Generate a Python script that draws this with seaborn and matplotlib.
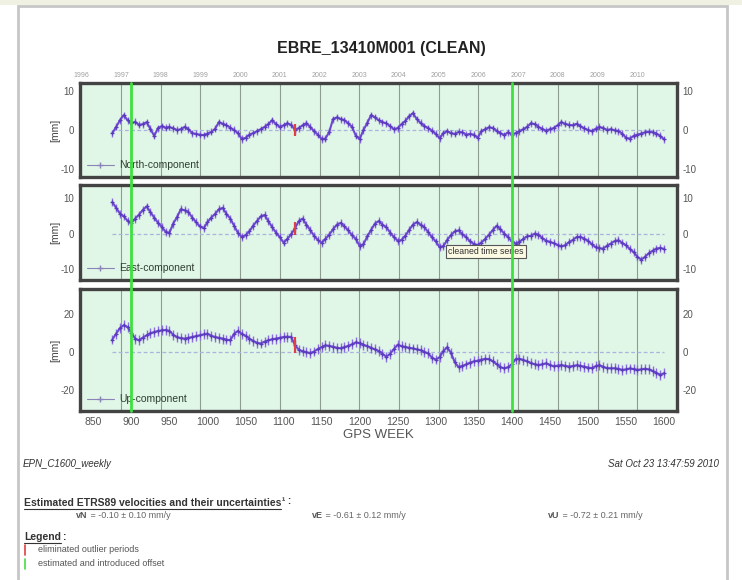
import datetime as dt

import matplotlib
matplotlib.use("Agg")
import matplotlib.pyplot as plt
import numpy as np
import pandas as pd
import seaborn as sns
from matplotlib import transforms
from matplotlib.lines import Line2D
from matplotlib.patches import Rectangle

# ---------------------------------------------------------------- data
station = "EBRE_13410M001 (CLEAN)"
solution = "EPN_C1600_weekly"
stamp = "Sat Oct 23 13:47:59 2010"

weeks = np.arange(875, 1601, 5)

north = [
    -0.8, 0.8, 2.5, 3.8, 2.5, 1.7, 2.1, 1.3, 1.5, 2.0,
    0.3, -1.5, 0.5, 1.0, 0.6, 0.8, 0.4, 0.0, 0.2, 0.8,
    0.2, -0.8, -1.0, -1.2, -1.3, -0.9, -0.5, 0.3, 2.0, 1.6,
    1.2, 0.6, 0.0, -0.8, -2.3, -2.0, -1.2, -0.8, -0.3, 0.2,
    0.8, 1.5, 2.5, 1.5, 0.8, 1.2, 1.7, 1.3, 0.0, 0.5,
    1.2, 1.7, 0.8, -0.3, -1.2, -2.3, -2.2, -0.5, 2.8, 3.2,
    2.8, 2.5, 1.7, 0.8, -1.5, -2.3, 0.0, 1.8, 3.8, 3.2,
    2.5, 2.0, 1.7, 1.0, 0.2, 0.5, 1.5, 2.3, 3.5, 4.3,
    2.8, 1.8, 1.0, 0.5, -0.2, -1.0, -2.1, -0.8, -0.3, -0.8,
    -1.0, -0.5, -0.6, -1.2, -1.0, -1.2, -2.0, -0.3, 0.2, 0.7,
    0.5, -0.2, -0.8, -1.3, -0.6, -1.2, -0.8, -0.3, 0.2, 0.8,
    1.7, 1.5, 0.8, 0.3, -0.2, 0.2, 0.5, 1.2, 2.0, 1.6,
    1.3, 1.2, 1.6, 1.0, 0.4, 0.0, -0.3, 0.3, 0.8, 0.5,
    0.0, 0.2, -0.1, -0.3, -0.9, -2.0, -2.2, -1.5, -1.2, -0.9,
    -0.6, -0.4, -0.6, -0.9, -1.5, -2.4,
]

east = [
    8.8, 7.2, 5.6, 4.8, 3.6, 3.0, 4.2, 5.3, 6.6, 7.6,
    6.0, 4.5, 3.0, 1.9, 0.5, 0.2, 2.8, 4.6, 6.8, 6.5,
    6.0, 4.5, 3.2, 2.0, 1.5, 3.2, 4.5, 5.5, 6.8, 7.2,
    5.5, 4.2, 2.2, 0.2, -0.9, -0.5, 0.6, 2.2, 3.5, 4.8,
    5.2, 3.5, 1.8, 0.3, -1.0, -2.5, -1.5, -0.2, 1.5, 3.5,
    4.2, 2.5, 1.0, -0.6, -1.8, -2.6, -1.5, -0.3, 1.2, 2.5,
    3.0, 2.0, 0.9, -0.5, -1.5, -3.5, -3.0, -0.8, 1.0, 2.8,
    3.5, 2.5, 1.8, 0.3, -1.0, -2.0, -1.8, -0.6, 1.0, 2.5,
    3.2, 2.5, 1.8, 0.4, -1.0, -2.2, -3.8, -3.5, -1.8, -0.4,
    0.6, 0.9, -0.2, -1.0, -2.2, -2.9, -3.2, -2.5, -1.5, -0.3,
    1.0, 2.2, 1.2, 0.0, -1.0, -2.2, -2.8, -2.3, -1.5, -0.8,
    -0.6, 0.0, -0.3, -1.3, -2.0, -2.3, -2.7, -3.2, -3.6, -3.3,
    -2.4, -1.8, -1.0, -0.9, -1.4, -2.0, -3.0, -3.8, -4.1, -4.2,
    -3.4, -2.8, -2.1, -1.9, -2.6, -3.3, -4.3, -5.2, -6.5, -7.3,
    -6.5, -5.5, -4.8, -4.2, -4.0, -4.3,
]

up = [
    6.5, 9.6, 12.5, 14.0, 13.0, 10.0, 7.0, 6.1, 7.5, 8.7,
    9.8, 10.4, 11.0, 11.3, 11.5, 11.0, 9.0, 7.8, 7.2, 7.0,
    7.4, 7.8, 8.3, 8.7, 9.2, 9.6, 8.5, 7.8, 7.4, 7.0,
    6.5, 6.1, 9.5, 11.0, 9.5, 8.5, 7.0, 5.8, 4.8, 4.4,
    5.4, 6.1, 6.6, 7.0, 7.4, 7.8, 8.0, 7.8, 3.5, 1.2,
    0.3, -0.2, -0.6, 0.2, 1.5, 2.5, 3.4, 3.2, 2.7, 2.2,
    1.9, 2.5, 3.2, 4.0, 5.0, 4.6, 3.8, 3.0, 2.2, 1.3,
    0.4, -1.0, -2.5, -1.0, 1.5, 3.8, 3.0, 2.6, 2.2, 1.8,
    1.3, 0.9, 0.0, -0.8, -3.0, -4.0, -2.8, 0.5, 2.4, -0.5,
    -5.5, -8.0, -7.3, -6.6, -5.6, -5.0, -4.6, -4.1, -3.6, -3.8,
    -5.0, -6.4, -8.0, -8.6, -8.0, -6.5, -3.8, -3.6, -4.2, -5.0,
    -5.8, -6.5, -6.9, -6.5, -6.0, -6.8, -7.6, -7.2, -6.9, -7.3,
    -7.7, -7.4, -7.0, -7.3, -7.7, -8.2, -8.5, -7.5, -7.0, -7.8,
    -8.5, -8.6, -8.6, -8.9, -9.4, -9.2, -8.7, -9.0, -9.4, -9.2,
    -8.8, -9.2, -10.0, -11.0, -12.0, -11.2,
]

components = ["North-component", "East-component", "Up-component"]
sigmas = [0.9, 1.1, 2.6]          # formal errors drawn as bars [mm]
y_ticks = [[-10, 0, 10], [-10, 0, 10], [-20, 0, 20]]
y_limits = [(-12, 12), (-13, 13.6), (-31, 33)]

offset_weeks = [900, 1400]
outlier_weeks = [1115]
years = list(range(1996, 2011))
x_ticks = list(range(850, 1601, 50))

velocities = [("vN", " = -0.10 \u00b1 0.10 mm/y"),
              ("vE", " = -0.61 \u00b1 0.12 mm/y"),
              ("vU", " = -0.72 \u00b1 0.21 mm/y")]
legend_items = [("eliminated outlier periods", "#e04040"),
                ("estimated and introduced offset", "#44dd44")]

for series in (north, east, up):
    assert len(series) == len(weeks)

GPS_EPOCH = dt.date(1980, 1, 6)


def gps_week(year):
    """GPS week (fractional) of 1 January of a year."""
    return (dt.date(year, 1, 1) - GPS_EPOCH).days / 7.0


year_weeks = [gps_week(y) for y in years]

# ---------------------------------------------------------------- style
sns.set_style("white")
plt.rcParams["font.family"] = ["Liberation Sans", "DejaVu Sans"]

W, H = 742, 580
fig = plt.figure(figsize=(W / 100, H / 100), dpi=100)
fig.patch.set_facecolor("white")


def px_axes(left, top, right, bottom):
    return fig.add_axes([left / W, 1 - bottom / H, (right - left) / W, (bottom - top) / H])


rects = [(80, 83, 677, 177), (80, 185, 677, 280), (80, 289, 677, 411)]
axes = [px_axes(*r) for r in rects]

BG = "#e0f6e6"
LINE = "#6c48d0"
BAR = "#8c6ee2"
XLIM = (832.5, 1617)

for i, (ax, vals, name) in enumerate(zip(axes, (north, east, up), components)):
    df = pd.DataFrame({"week": weeks, "mm": vals})
    sig = sigmas[i]
    ax.set_facecolor(BG)

    for yw in year_weeks[1:]:
        ax.axvline(yw, color="#8f9d8f", lw=0.8, zorder=1)
    ax.hlines(0, weeks[0], weeks[-1], colors="#a9b5dc",
              linestyles=(0, (3, 2)), lw=0.9, zorder=1.5)

    ax.vlines(df["week"], df["mm"] - sig, df["mm"] + sig, color=BAR, lw=1.0, zorder=2)
    sns.lineplot(data=df, x="week", y="mm", ax=ax, color=LINE, lw=1.5,
                 marker="+", markersize=3.5, markeredgewidth=0.9,
                 markeredgecolor="#5c3ac0", errorbar=None, legend=False, zorder=3)

    bad = df[df["week"].isin(outlier_weeks)]
    ax.vlines(bad["week"], bad["mm"] - 1.6 * sig, bad["mm"] + 1.6 * sig,
              color="#e04040", lw=1.6, zorder=4)

    ax.set_xlim(*XLIM)
    ax.set_ylim(*y_limits[i])
    ax.set_yticks(y_ticks[i])
    ax.set_yticklabels([str(t) for t in y_ticks[i]])
    ax.tick_params(axis="y", left=True, right=True, labelleft=True, labelright=True,
                   length=0, pad=4, labelsize=7, labelcolor="#555555")
    ax.set_ylabel("[mm]", fontsize=7.5, color="#444444")
    ax.yaxis.set_label_coords(-0.033, 0.5)
    ax.set_xticks(x_ticks)
    ax.set_xlabel("")
    if i < 2:
        ax.tick_params(axis="x", labelbottom=False, length=0)
    else:
        ax.set_xticklabels([str(t) for t in x_ticks])
        ax.tick_params(axis="x", length=0, pad=4, labelsize=7.5, labelcolor="#555555")
        ax.set_xlabel("GPS WEEK", fontsize=9.5, color="#555555", labelpad=2)

    for s in ax.spines.values():
        s.set_visible(True)
        s.set_linewidth(2.4)
        s.set_color("#434343")
        s.set_zorder(6)

    handle = Line2D([], [], color="#8a84b8", lw=0.8, marker="+", markersize=4)
    leg = ax.legend([handle], [name], loc="lower left", frameon=False, fontsize=7.5,
                    handlelength=2.6, handletextpad=0.5, borderaxespad=0.25,
                    labelcolor="#2f3f2f")
    leg.set_zorder(7)

# years along the top of the first panel
top = axes[0].secondary_xaxis("top")
top.set_xticks(year_weeks)
top.set_xticklabels([str(y) for y in years])
top.tick_params(length=0, pad=3, labelsize=5, labelcolor="#a0a0a0")
top.spines["top"].set_visible(False)

# tooltip box in the East panel
axes[1].text(1316, -5.1, "cleaned time series", fontsize=6.3, color="#333333",
             ha="left", va="center", zorder=8,
             bbox=dict(boxstyle="square,pad=0.25", fc="#fbfbe4", ec="#555555", lw=0.8))

# offset markers running through all panels
y_lo = 1 - rects[2][3] / H
y_hi = 1 - rects[0][1] / H
blend = transforms.blended_transform_factory(axes[2].transData, fig.transFigure)
for w in offset_weeks:
    fig.add_artist(Line2D([w, w], [y_lo, y_hi], transform=blend,
                          color="#3fe03f", lw=2.0, zorder=10))

# ---------------------------------------------------------------- page
fig.add_artist(Rectangle((0, 1 - 5 / H), 1, 5 / H, transform=fig.transFigure,
                         fc="#f1f1e3", ec="none", zorder=0))
fig.add_artist(Rectangle((18 / W, -0.02), (727 - 18) / W, 1 - 6 / H + 0.02,
                         transform=fig.transFigure, fill=False, ec="#c6c6c6", lw=2))

fig.text(381 / W, 1 - 48 / H, station, ha="center", va="center",
         fontsize=11.5, weight="bold", color="#222222")

fig.text(23 / W, 1 - 464 / H, solution, ha="left", va="center",
         fontsize=7, style="italic", color="#333333")
fig.text(719 / W, 1 - 464 / H, stamp, ha="right", va="center",
         fontsize=7, style="italic", color="#333333")

renderer = fig.canvas.get_renderer()


def put(x, y, s, underline=False, **kw):
    t = fig.text(x / W, 1 - y / H, s, ha="left", va="center", **kw)
    bb = t.get_window_extent(renderer)
    if underline:
        yl = (bb.y0 - 0.5) / H
        fig.add_artist(Line2D([bb.x0 / W, bb.x1 / W], [yl, yl], transform=fig.transFigure,
                              color=kw.get("color", "#333333"), lw=0.8))
    return bb.x1


xe = put(24, 503, "Estimated ETRS89 velocities and their uncertainties", underline=True,
         fontsize=7.5, weight="bold", color="#333333")
put(xe + 1, 501, "\u00b9 :", fontsize=7, weight="bold", color="#333333")

for xv, (lab, txt) in zip((76, 312, 548), velocities):
    xb = put(xv, 515, lab, fontsize=6.5, weight="bold", color="#555555")
    put(xb, 515, txt, fontsize=6.5, color="#666666")

xl = put(24, 537, "Legend", underline=True, fontsize=7.5, weight="bold", color="#333333")
put(xl + 2, 537, ":", fontsize=7.5, weight="bold", color="#333333")

for k, (txt, col) in enumerate(legend_items):
    yc = 550 + 14 * k
    fig.add_artist(Line2D([25 / W, 25 / W], [1 - (yc - 5) / H, 1 - (yc + 5) / H],
                          transform=fig.transFigure, color=col, lw=1.2))
    put(38, yc, txt, fontsize=6.5, color="#555555")

fig.savefig("out.png", dpi=100)
